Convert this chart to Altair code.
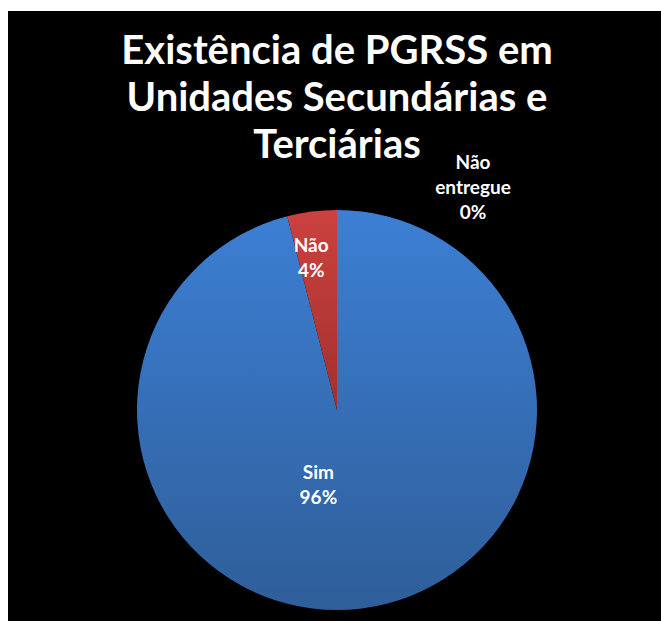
import altair as alt
import pandas as pd

categories = ["Sim", "Não", "Não entregue"]
percents = [96, 4, 0]
label_lines = [["Sim", "96%"], ["Não", "4%"], ["Não", "entregue", "0%"]]
title_lines = ["Existência de PGRSS em", "Unidades Secundárias e", "Terciárias"]

df = pd.DataFrame({
    "categoria": categories,
    "pct": percents,
    "ordem": list(range(len(categories))),
    "rotulo": label_lines,
})

W, H = 653, 610
CX, CY = 329, 399
R = 200
FONT = "Lato"

base = alt.Chart(df).transform_window(
    cum="sum(pct)", sort=[alt.SortField("ordem")], frame=[None, 0]
).transform_joinaggregate(total="sum(pct)").transform_calculate(
    t0="2*PI*(datum.cum - datum.pct)/datum.total",
    t1="2*PI*datum.cum/datum.total",
    tm="PI*(2*datum.cum - datum.pct)/datum.total",
)

blue = alt.LinearGradient(
    gradient="linear", x1=0, x2=0, y1=0, y2=1,
    stops=[alt.GradientStop(color="#3C7FD4", offset=0),
           alt.GradientStop(color="#2F5E99", offset=1)],
)
red = alt.LinearGradient(
    gradient="linear", x1=0, x2=0, y1=0, y2=1,
    stops=[alt.GradientStop(color="#CB423F", offset=0),
           alt.GradientStop(color="#A2302C", offset=1)],
)

def arc(cat, fill):
    return base.transform_filter(alt.datum.categoria == cat).mark_arc(
        fill=fill, strokeWidth=0
    ).encode(
        theta=alt.Theta("t0:Q", scale=None),
        theta2="t1:Q",
        radius=alt.value(R),
        x=alt.value(CX),
        y=alt.value(CY),
    )

def label(cat, r, dx, dy):
    return base.transform_filter(alt.datum.categoria == cat).mark_text(
        font=FONT, fontWeight="bold", fontSize=19, color="white",
        lineHeight=25, baseline="middle", align="center", dx=dx, dy=dy,
    ).encode(
        theta=alt.Theta("tm:Q", scale=None),
        radius=alt.value(r),
        x=alt.value(CX),
        y=alt.value(CY),
        text="rotulo",
    )

title = alt.Chart(pd.DataFrame({"t": [title_lines]})).mark_text(
    font=FONT, fontWeight="bold", fontSize=40, color="white",
    lineHeight=47, baseline="middle", align="center",
).encode(x=alt.value(CX), y=alt.value(41), text="t")

chart = alt.layer(
    arc("Sim", blue),
    arc("Não", red),
    label("Sim", 75, -28, -11),
    label("Não", 158, -6, -7),
    label("Não entregue", 225, 136, -22),
    title,
).properties(
    width=W, height=H, background="white",
    padding={"left": 8, "top": 11, "right": 0, "bottom": 0},
).configure_view(fill="black", stroke=None)

chart.save("out.html", embed_options={"renderer": "svg", "actions": False})
